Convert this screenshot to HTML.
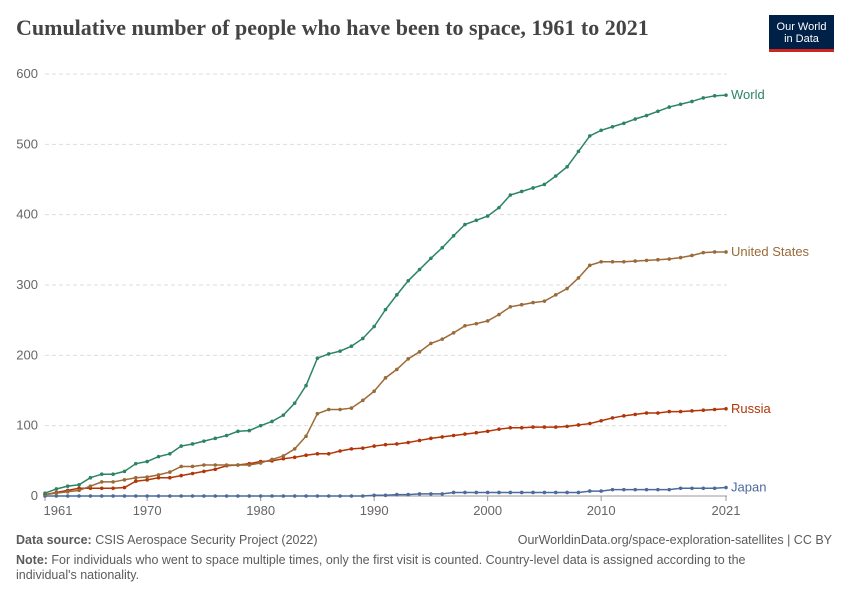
<!DOCTYPE html>
<html><head><meta charset="utf-8"><style>
body{margin:0;background:#fff;font-family:"Liberation Sans",sans-serif;}
#c{position:relative;width:850px;height:600px;overflow:hidden}
h1{position:absolute;left:16px;top:15px;margin:0;font-family:"Liberation Serif",serif;font-weight:bold;font-size:22px;color:#444}
.logo{position:absolute;left:769px;top:15px;width:65px;height:37px;background:#002147;color:#fff;font-size:11px;text-align:center;line-height:12px;padding-top:6px;box-sizing:border-box;border-bottom:3px solid #ce261e}
.ft{position:absolute;font-size:12.5px;color:#5b5b5b}
</style></head><body><div id="c">
<h1>Cumulative number of people who have been to space, 1961 to 2021</h1>
<div class="logo">Our World<br>in Data</div>
<svg id="s" width="850" height="600" style="position:absolute;left:0;top:0"></svg>
<div class="ft" style="left:16px;top:533px"><b>Data source:</b> CSIS Aerospace Security Project (2022)</div>
<div class="ft" style="right:18px;top:533px">OurWorldinData.org/space-exploration-satellites | CC BY</div>
<div class="ft" style="left:16px;top:553px;width:770px;line-height:15px"><b>Note:</b> For individuals who went to space multiple times, only the first visit is counted. Country-level data is assigned according to the individual's nationality.</div>
</div>
<script>
const W=[4,10,14,16,26,31,31,35,46,49,56,60,71,74,78,82,86,92,93,100,106,115,132,157,196,202,206,213,224,241,265,286,306,322,338,353,370,386,392,398,410,428,433,438,443,455,468,490,512,520,525,530,536,541,547,553,557,561,566,569,570];
const U=[2,4,6,8,14,20,20,23,26,27,30,34,42,42,44,44,44,44,44,47,52,57,67,85,117,123,123,125,136,149,168,180,195,205,217,223,232,242,245,249,258,269,272,275,277,286,295,310,328,333,333,333,334,335,336,337,339,342,346,347,347];
const R=[2,5,8,11,11,11,11,12,21,23,26,26,29,32,35,38,43,44,46,49,50,53,55,58,60,60,64,67,68,71,73,74,76,79,82,84,86,88,90,92,95,97,97,98,98,98,99,101,103,107,111,114,116,118,118,120,120,121,122,123,124];
const J=[];for(let i=0;i<61;i++){let y=1961+i;J.push(y<1990?0:y<1992?1:y<1994?2:y<1997?3:y<2009?5:y<2011?7:y<2017?9:y<2021?11:12);}
const X=y=>45+(y-1961)*11.35, Y=v=>496-v*0.7033;
let s='';
for(let v=0;v<=600;v+=100){let y=Y(v);s+=`<line x1="45" x2="727" y1="${y}" y2="${y}" stroke="#ddd" stroke-dasharray="${v?'4,3':''}"/>`;
s+=`<text x="38" y="${y+4}" text-anchor="end" font-size="13" fill="#666">${v}</text>`;}
s+=`<line x1="45" x2="727" y1="496" y2="496" stroke="#999"/>`;
[1961,1970,1980,1990,2000,2010,2021].forEach(y=>{let x=X(y);s+=`<line x1="${x}" x2="${x}" y1="496" y2="501" stroke="#999"/><text x="${y==1961?58:x}" y="515" text-anchor="middle" font-size="13" fill="#666">${y}</text>`});
function ser(d,c,l){let p=d.map((v,i)=>X(1961+i)+','+Y(v)).join(' ');s+=`<polyline points="${p}" fill="none" stroke="${c}" stroke-width="1.5"/>`;
d.forEach((v,i)=>s+=`<circle cx="${X(1961+i)}" cy="${Y(v)}" r="1.8" fill="${c}"/>`);
s+=`<text x="731" y="${Y(d[60])+4}" font-size="13" fill="${c}">${l}</text>`;}
ser(J,'#4c6a9c','Japan');ser(R,'#b13507','Russia');ser(U,'#9a6a38','United States');ser(W,'#2c8465','World');
document.getElementById('s').innerHTML=s;
</script></body></html>
